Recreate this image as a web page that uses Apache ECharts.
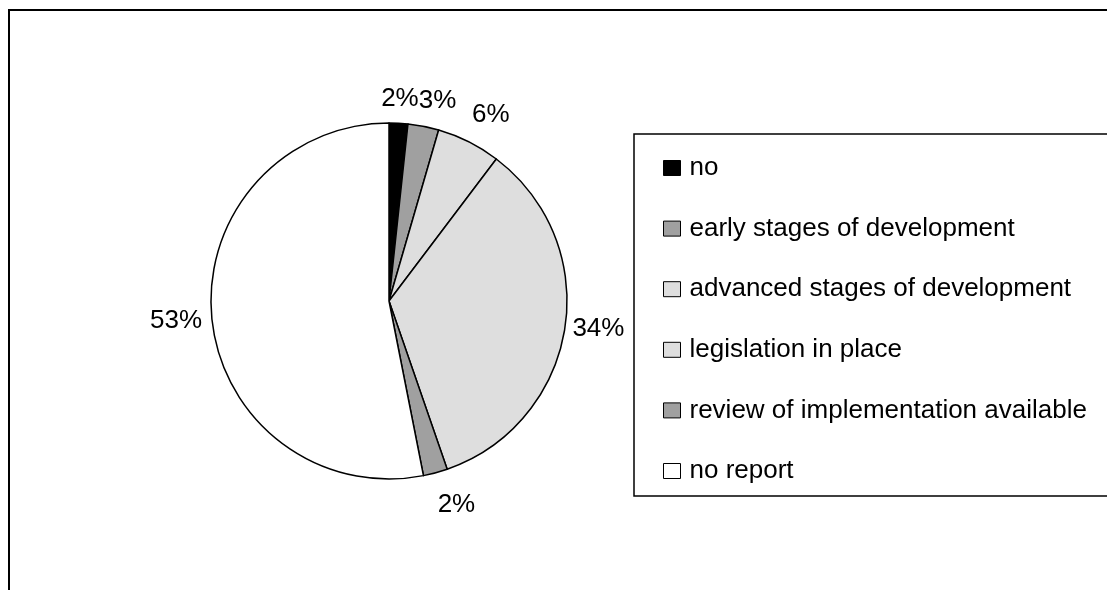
<!DOCTYPE html>
<html><head><meta charset="utf-8">
<script src="https://cdn.jsdelivr.net/npm/echarts@6/dist/echarts.min.js"></script>
<style>html,body{margin:0;padding:0;background:#fff}#c{width:1107px;height:590px}</style>
</head><body><div id="c"></div>
<script>
const categories = ['no', 'early stages of development', 'advanced stages of development', 'legislation in place', 'review of implementation available', 'no report'];
const values = [1.7, 2.8, 5.8, 34.4, 2.2, 53.1];
const colors = ['#000000', '#a0a0a0', '#dedede', '#dedede', '#a0a0a0', '#ffffff'];

const CX = 389, CY = 301, R = 178, GAP = 8;
// small per-label nudges (style only) to mimic the original label placement
const labelNudge = [[0, -3], [9, -5], [10, -8], [0, -3], [14, 12], [-2, 0]];
const total = values.reduce((a, b) => a + b, 0);
const mids = []; let acc = 0;
values.forEach(v => { mids.push((acc + v / 2) / total * 2 * Math.PI); acc += v; });

const FONT = '"Liberation Sans", Arial, sans-serif';
const chart = echarts.init(document.getElementById('c'), null, {renderer: 'canvas'});
chart.setOption({
  animation: false,
  textStyle: {fontFamily: FONT},
  graphic: [{
    type: 'rect', silent: true, z: 0,
    shape: {x: 9, y: 10, width: 1300, height: 800},
    style: {fill: null, stroke: '#000', lineWidth: 2}
  }],
  legend: {
    orient: 'vertical', left: 634, top: 134,
    data: categories, icon: 'rect', itemWidth: 17, itemHeight: 15, itemGap: 34.6,
    padding: [21, 60, 12, 29],
    backgroundColor: '#fff', borderColor: '#000', borderWidth: 1.5,
    selectedMode: false,
    itemStyle: {borderColor: '#000', borderWidth: 1},
    textStyle: {fontSize: 26, color: '#000', lineHeight: 26, fontFamily: FONT, padding: [0, 0, 0, 4]}
  },
  series: [{
    type: 'pie', center: [CX, CY], radius: R, startAngle: 90, clockwise: true,
    silent: true,
    data: categories.map((n, i) => ({name: n, value: values[i], itemStyle: {color: colors[i]}})),
    itemStyle: {borderColor: '#000', borderWidth: 1.5},
    label: {show: true, position: 'outside', fontSize: 26, color: '#000', fontFamily: FONT,
      formatter: p => Math.round(p.percent) + '%'},
    labelLine: {show: false},
    labelLayout: function (p) {
      const a = mids[p.dataIndex];
      const dx = Math.sin(a), dy = -Math.cos(a);
      const w = p.labelRect.width, h = p.labelRect.height;
      const n = labelNudge[p.dataIndex];
      return {x: CX + dx * (R + GAP) + dx * w / 2 + n[0], y: CY + dy * (R + GAP) + dy * h / 2 + n[1],
        align: 'center', verticalAlign: 'middle'};
    }
  }]
});
</script></body></html>
